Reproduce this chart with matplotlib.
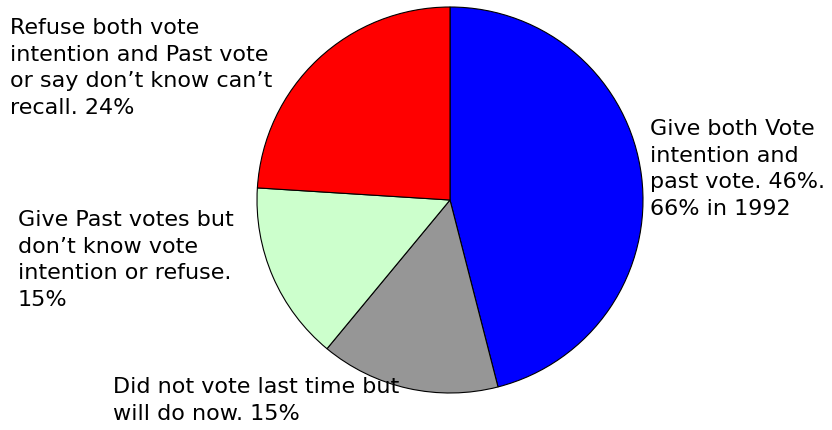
import matplotlib.pyplot as plt

# values, clockwise from 12 o'clock
shares = [46, 15, 15, 24]
colors = ['#0000ff', '#969696', '#ccffcc', '#ff0000']
labels = [
    'Give both Vote\nintention and\npast vote. 46%.\n66% in 1992',
    'Did not vote last time but\nwill do now. 15%',
    'Give Past votes but\ndon\u2019t know vote\nintention or refuse.\n15%',
    'Refuse both vote\nintention and Past vote\nor say don\u2019t know can\u2019t\nrecall. 24%',
]
# top-left of each label block, in pixels from the top-left corner
label_pos = [(650, 119), (113, 377), (18, 210), (10, 18)]

W, H = 832, 430
fig = plt.figure(figsize=(W / 100, H / 100), dpi=100)
ax = fig.add_axes([0, 0, 1, 1])

ax.pie(shares, colors=colors, startangle=90, counterclock=False,
       center=(450, H - 200), radius=193, frame=True,
       wedgeprops=dict(edgecolor='black', linewidth=0.8))
ax.set_xlim(0, W)
ax.set_ylim(0, H)
ax.set_aspect('auto')
ax.axis('off')

for txt, (x, y) in zip(labels, label_pos):
    ax.text(x, H - y, txt, fontsize=16, ha='left', va='top',
            linespacing=1.41, color='black')

fig.savefig('out.png', dpi=100)
